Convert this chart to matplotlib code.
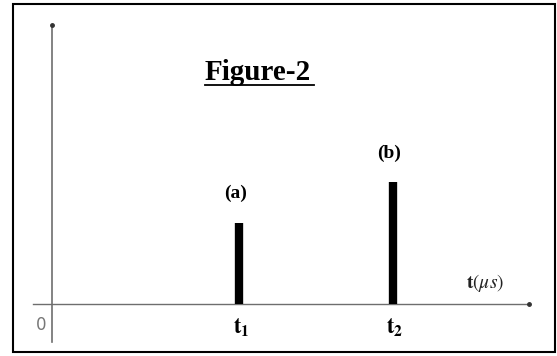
import matplotlib.pyplot as plt
from matplotlib.patches import Rectangle

plt.rcParams['mathtext.fontset'] = 'stix'

# pulse data (arbitrary units)
pulse_labels = ['(a)', '(b)']
pulse_times = [2.75, 5.0]
pulse_heights = [2.0, 3.0]
tick_labels = [r'$\mathbf{t}_{\mathbf{1}}$', r'$\mathbf{t}_{\mathbf{2}}$']

fig = plt.figure(figsize=(5.57, 3.56), dpi=100)
ax = fig.add_axes([0, 0, 1, 1])
ax.set_xlim(-0.76, 7.41)
ax.set_ylim(-1.28, 7.47)
ax.axis('off')

# outer frame
fig.patches.append(Rectangle((13 / 557, 4 / 356), 542 / 557, 348 / 356,
                             transform=fig.transFigure, fill=False,
                             edgecolor='black', linewidth=1.5))

# axes lines
axis_col = '#6e6e6e'
ax.plot([-0.28, 7.0], [0, 0], color=axis_col, lw=1.0)
ax.plot([0, 0], [-0.93, 6.86], color=axis_col, lw=1.2)
ax.plot([7.0], [0], 'o', color='#333333', ms=2.5)
ax.plot([0], [6.86], 'o', color='#333333', ms=2.5)

# pulses
for t, h, lab, tl in zip(pulse_times, pulse_heights, pulse_labels, tick_labels):
    ax.plot([t, t], [0, h], color='black', lw=6, solid_capstyle='butt')
    ax.text(t - 0.06, h + 0.5, lab, ha='center', va='bottom',
            family='Liberation Serif', fontweight='bold', fontsize=14)
    ax.text(t + 0.03, -0.3, tl, ha='center', va='top', fontsize=16)

ax.text(-0.15, -0.3, '0', ha='center', va='top', color='#777777',
        family='DejaVu Sans', fontsize=12)
ax.text(6.35, 0.25, r'$\mathbf{t}(\mu s)$', ha='center', va='bottom',
        fontsize=14, color='#222222')

# title with underline
ax.text(0.463, 1 - 80 / 356, 'Figure-2', transform=ax.transAxes, ha='center',
        va='baseline', family='Liberation Serif', fontweight='bold', fontsize=21)
ax.plot([205 / 557, 314 / 557], [1 - 85 / 356] * 2, transform=ax.transAxes,
        color='black', lw=1.3)

fig.savefig('out.png', dpi=100)
